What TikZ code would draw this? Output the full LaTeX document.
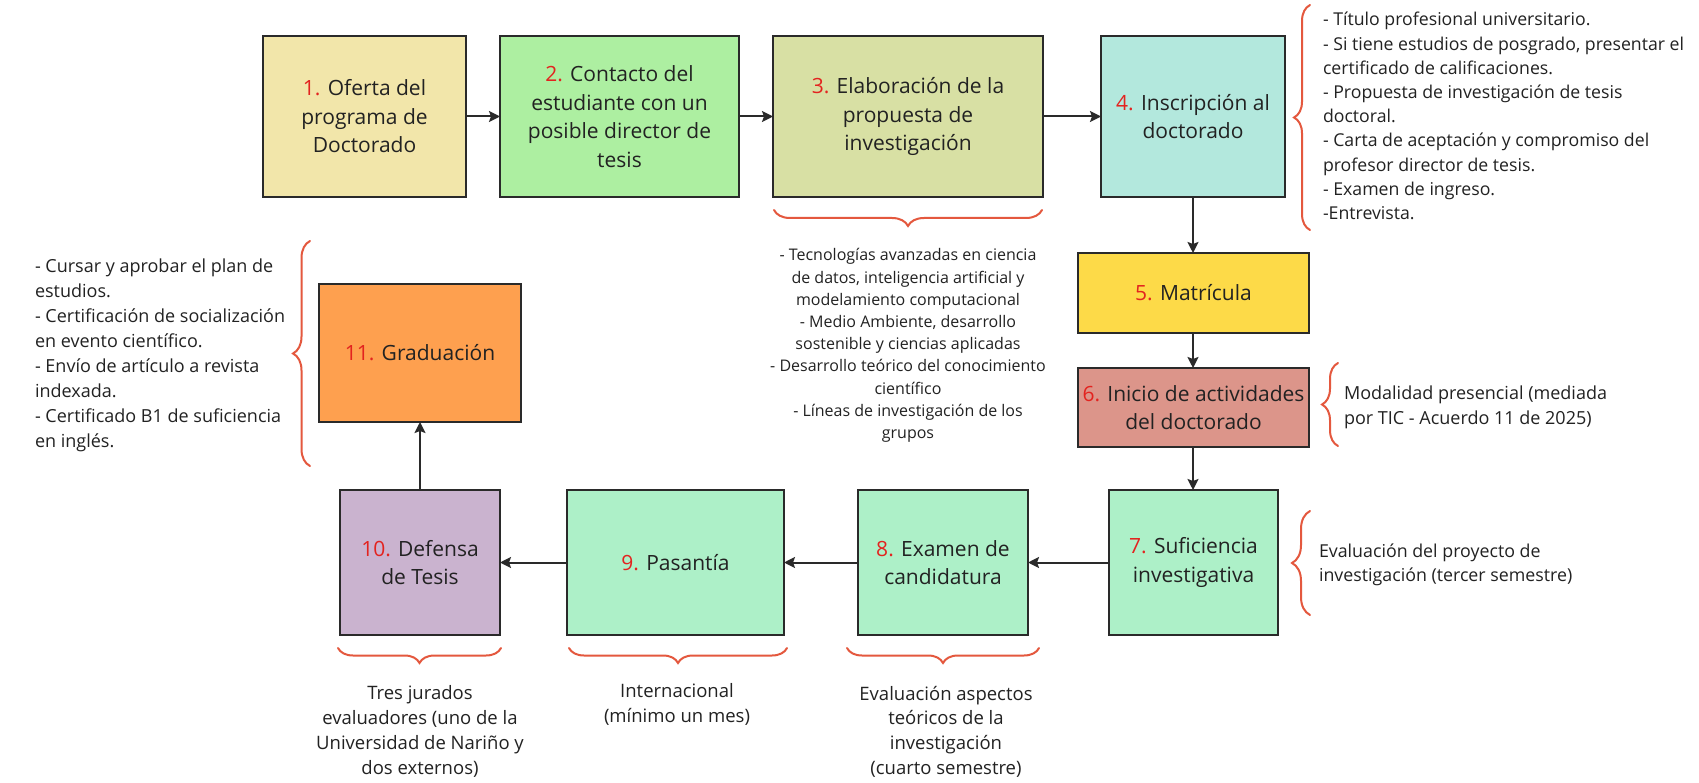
\documentclass[tikz,border=0pt]{standalone}
\usepackage{fontspec}
\setmainfont{Open Sans}
\usetikzlibrary{arrows.meta,decorations.pathreplacing}
\definecolor{cA}{HTML}{F2E6AA}
\definecolor{cB}{HTML}{ADEFA1}
\definecolor{cC}{HTML}{D8E0A4}
\definecolor{cD}{HTML}{B3E8DD}
\definecolor{cE}{HTML}{FDDA48}
\definecolor{cF}{HTML}{DC958A}
\definecolor{cG}{HTML}{ADF0C8}
\definecolor{cH}{HTML}{CAB3CF}
\definecolor{cI}{HTML}{FEA04F}
\definecolor{bracecol}{HTML}{E4583E}
\definecolor{bordercol}{HTML}{2A2A2A}
\definecolor{txtcol}{HTML}{222222}
\definecolor{numred}{HTML}{E3231F}
\newcommand{\stepnum}[1]{\textcolor{numred}{#1}}
\tikzset{
  stepbox/.style={draw=bordercol, line width=2pt, inner sep=0pt, outer sep=0pt, align=center,
    text=txtcol, font=\fontsize{21}{28.5}\selectfont},
  arr/.style={draw=bordercol, line width=2pt, -{Stealth[length=11pt,width=11pt,inset=2pt]}},
  brc/.style={draw=bracecol, line width=2pt, line cap=round, decorate,
    decoration={brace, amplitude=#1}},
  note/.style={inner sep=0pt, outer sep=0pt, text=txtcol}
}
\begin{document}
\begin{tikzpicture}[x=1pt,y=1pt]
\useasboundingbox[fill=white] (0,0) rectangle (1699,-783);

% boxes
\node[stepbox, fill=cA, minimum width=203pt, minimum height=161pt] (b1) at (364.5,-116.5)
  {\stepnum{1.} Oferta del\\programa de\\Doctorado};
\node[stepbox, fill=cB, minimum width=239pt, minimum height=161pt] (b2) at (619.5,-116.5)
  {\stepnum{2.} Contacto del\\estudiante con un\\posible director de\\tesis};
\node[stepbox, fill=cC, minimum width=270pt, minimum height=161pt] (b3) at (908,-116.5)
  {\stepnum{3.} Elaboración de la\\propuesta de\\investigación};
\node[stepbox, fill=cD, minimum width=184pt, minimum height=161pt] (b4) at (1193,-116.5)
  {\stepnum{4.} Inscripción al\\doctorado};
\node[stepbox, fill=cE, minimum width=231pt, minimum height=80pt] (b5) at (1193.5,-293)
  {\stepnum{5.} Matrícula};
\node[stepbox, fill=cF, minimum width=231pt, minimum height=79pt] (b6) at (1193.5,-407.5)
  {\stepnum{6.} Inicio de actividades\\del doctorado};
\node[stepbox, fill=cG, minimum width=169pt, minimum height=145pt] (b7) at (1193.5,-562.5)
  {\stepnum{7.} Suficiencia\\investigativa};
\node[stepbox, fill=cG, minimum width=170pt, minimum height=145pt] (b8) at (943,-562.5)
  {\stepnum{8.} Examen de\\candidatura};
\node[stepbox, fill=cG, minimum width=217pt, minimum height=145pt] (b9) at (675.5,-562.5)
  {\stepnum{9.} Pasantía};
\node[stepbox, fill=cH, minimum width=160pt, minimum height=145pt] (b10) at (420,-562.5)
  {\stepnum{10.} Defensa\\de Tesis};
\node[stepbox, fill=cI, minimum width=202pt, minimum height=138pt] (b11) at (420,-353)
  {\stepnum{11.} Graduación};

% arrows
\draw[arr] (b1.east) -- (b2.west);
\draw[arr] (b2.east) -- (b3.west);
\draw[arr] (b3.east) -- (b4.west);
\draw[arr] (b4.south) -- (b4.south |- b5.north);
\draw[arr] (b4.south |- b5.south) -- (b4.south |- b6.north);
\draw[arr] (b4.south |- b6.south) -- (b4.south |- b7.north);
\draw[arr] (b7.west) -- (b8.east);
\draw[arr] (b8.west) -- (b9.east);
\draw[arr] (b9.west) -- (b10.east);
\draw[arr] (b10.north) -- (b11.south);

% braces
\coordinate (r4a) at (1310,-230); \coordinate (r4b) at (1310,-5);
\draw[brc=16pt] (r4a) -- (r4b);
\coordinate (r11a) at (310,-466); \coordinate (r11b) at (310,-241);
\draw[brc=17pt] (r11a) -- (r11b);
\coordinate (r6a) at (1338,-446); \coordinate (r6b) at (1338,-363);
\draw[brc=16pt] (r6a) -- (r6b);
\coordinate (r7a) at (1310,-615); \coordinate (r7b) at (1310,-511);
\draw[brc=18pt] (r7a) -- (r7b);
\coordinate (r3a) at (1042,-210); \coordinate (r3b) at (774,-210);
\draw[brc=16pt] (r3a) -- (r3b);
\coordinate (r10a) at (501,-648); \coordinate (r10b) at (338,-648);
\draw[brc=15pt] (r10a) -- (r10b);
\coordinate (r9a) at (787,-648); \coordinate (r9b) at (569,-648);
\draw[brc=15pt] (r9a) -- (r9b);
\coordinate (r8a) at (1039,-648); \coordinate (r8b) at (847,-648);
\draw[brc=15pt] (r8a) -- (r8b);

% notes
\node[note, anchor=base west] (n4) at (1323,-26)
  {\fontsize{17.7}{24.2}\selectfont\begin{tabular}[t]{@{}l@{}}
  - Título profesional universitario.\\
  - Si tiene estudios de posgrado, presentar el\\
  certificado de calificaciones.\\
  - Propuesta de investigación de tesis\\
  doctoral.\\
  - Carta de aceptación y compromiso del\\
  profesor director de tesis.\\
  - Examen de ingreso.\\
  -Entrevista.
  \end{tabular}};
\node[note, anchor=base west] (n11) at (35,-273)
  {\fontsize{18}{25}\selectfont\begin{tabular}[t]{@{}l@{}}
  - Cursar y aprobar el plan de\\
  estudios.\\
  - Certificación de socialización\\
  en evento científico.\\
  - Envío de artículo a revista\\
  indexada.\\
  - Certificado B1 de suficiencia\\
  en inglés.
  \end{tabular}};
\node[note, anchor=base] (n3) at (908,-261)
  {\fontsize{16}{22.2}\selectfont\begin{tabular}[t]{@{}c@{}}
  - Tecnologías avanzadas en ciencia\\
  de datos, inteligencia artificial y\\
  modelamiento computacional\\
  - Medio Ambiente, desarrollo\\
  sostenible y ciencias aplicadas\\
  - Desarrollo teórico del conocimiento\\
  científico\\
  - Líneas de investigación de los\\
  grupos
  \end{tabular}};
\node[note, anchor=base west] (n6) at (1344,-399)
  {\fontsize{18}{25}\selectfont\begin{tabular}[t]{@{}l@{}}
  Modalidad presencial (mediada\\
  por TIC - Acuerdo 11 de 2025)
  \end{tabular}};
\node[note, anchor=base west] (n7) at (1319,-557)
  {\fontsize{17.8}{24.5}\selectfont\begin{tabular}[t]{@{}l@{}}
  Evaluación del proyecto de\\
  investigación (tercer semestre)
  \end{tabular}};
\node[note, anchor=base] (n10) at (420,-699)
  {\fontsize{18.5}{25}\selectfont\begin{tabular}[t]{@{}c@{}}
  Tres jurados\\
  evaluadores (uno de la\\
  Universidad de Nariño y\\
  dos externos)
  \end{tabular}};
\node[note, anchor=base] (n9) at (677,-697)
  {\fontsize{18.5}{25}\selectfont\begin{tabular}[t]{@{}c@{}}
  Internacional\\
  (mínimo un mes)
  \end{tabular}};
\node[note, anchor=base] (n8) at (946,-700)
  {\fontsize{18.5}{24.7}\selectfont\begin{tabular}[t]{@{}c@{}}
  Evaluación aspectos\\
  teóricos de la\\
  investigación\\
  (cuarto semestre)
  \end{tabular}};
\end{tikzpicture}
\end{document}
